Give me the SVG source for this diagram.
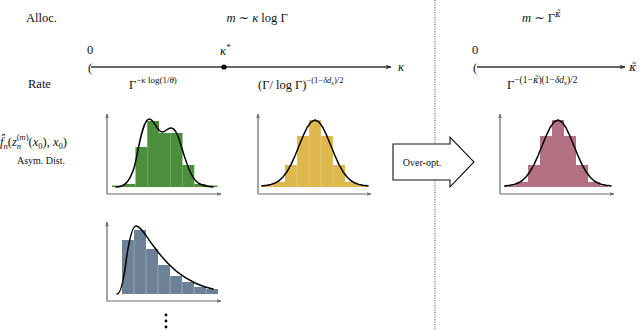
<svg xmlns="http://www.w3.org/2000/svg" xmlns:xlink="http://www.w3.org/1999/xlink" width="640" height="330" viewBox="0 0 640 330">
<style>
.t{font-family:"Liberation Serif","DejaVu Serif",serif;fill:#111}
.dj{font-family:"DejaVu Serif",serif}
.lbl{font-size:12.5px}
.sm{font-size:8.5px}
.it{font-style:italic}
.ax{stroke:#6a6a6a;stroke-width:1.2;fill:none}
.main{stroke:#333;stroke-width:1.3;fill:none}
.curve{stroke:#000;stroke-width:1.5;fill:none;stroke-linejoin:round;stroke-linecap:round}
.sep{stroke:#ffffff;stroke-opacity:0.45;stroke-width:0.6}
.g rect{fill:#4b8e3b}
.y rect{fill:#dfb84b}
.p rect{fill:#b47184}
.b rect{fill:#6c8196}
</style>
<defs>
<marker id="ah" viewBox="0 0 10 10" refX="9" refY="5" markerWidth="6" markerHeight="6" orient="auto" markerUnits="userSpaceOnUse">
<path d="M0,1 L10,5 L0,9 L3,5 Z" fill="#333"/>
</marker>
<marker id="sa" viewBox="0 0 10 10" refX="9" refY="5" markerWidth="5" markerHeight="5" orient="auto" markerUnits="userSpaceOnUse">
<path d="M0,1 L10,5 L0,9 L2.5,5 Z" fill="#6a6a6a"/>
</marker>
<path id="gauss" d="M-53,0 L-52,-0.34 L-48,-0.73 L-44,-1.5 L-40,-2.9 L-36,-5.25 L-32,-8.93 L-28,-14.28 L-24,-21.43 L-20,-30.22 L-16,-40.03 L-12,-49.82 L-8,-58.25 L-4,-63.97 L0,-66 L4,-63.97 L8,-58.25 L12,-49.82 L16,-40.03 L20,-30.22 L24,-21.43 L28,-14.28 L32,-8.93 L36,-5.25 L40,-2.9 L44,-1.5 L48,-0.73 L52,-0.34 L53,0"/>
</defs>

<!-- divider -->
<g id="divider">
<line x1="435" y1="0" x2="435" y2="330" stroke="#444" stroke-width="1" stroke-dasharray="1 1.4"/>
</g>

<!-- top labels -->
<g id="row-labels">
<text class="t lbl" x="26" y="22">Alloc.</text>
<text class="t lbl" x="28" y="88">Rate</text>
</g>

<g id="alloc-left">
<text class="t lbl" x="257" y="22" text-anchor="middle"><tspan class="it">m</tspan> ∼ <tspan class="it">κ</tspan> log Γ</text>
</g>
<g id="alloc-right">
<text class="t lbl" x="522" y="22"><tspan class="it">m</tspan> ∼ Γ<tspan class="sm it dj" dy="-5">κ̃</tspan></text>
</g>

<!-- axes -->
<g id="axis-left">
<line class="main" x1="91" y1="67" x2="391" y2="67" marker-end="url(#ah)"/>
<text class="t lbl" x="88" y="71.5">(</text>
<text class="t lbl" x="90" y="54" text-anchor="middle">0</text>
<circle cx="224" cy="67" r="2.6" fill="#000"/>
<text class="t lbl it" x="220" y="55">κ<tspan class="sm" dy="-5">*</tspan></text>
<text class="t lbl it" x="398" y="71">κ</text>
<text class="t lbl" x="129" y="89">Γ<tspan font-size="9" dy="-6">−<tspan class="it">κ</tspan> log(1/<tspan class="it">θ</tspan>)</tspan></text>
<text class="t lbl" x="258" y="89">(Γ/ log Γ)<tspan class="sm" dy="-6">−(1−<tspan class="it">δd</tspan><tspan dy="2" font-size="6" class="it">x</tspan><tspan dy="-2">)/2</tspan></tspan></text>
</g>

<g id="axis-right">
<line class="main" x1="477" y1="67" x2="625" y2="67" marker-end="url(#ah)"/>
<text class="t lbl" x="473" y="71.5">(</text>
<text class="t lbl" x="475" y="54" text-anchor="middle">0</text>
<text class="t it dj" font-size="11.5" x="629" y="71">κ̃</text>
<text class="t lbl" x="507" y="89">Γ<tspan font-size="9.5" dy="-6">−(1−<tspan class="it dj" font-size="8.5">κ̃</tspan>)(1−<tspan class="it">δd</tspan><tspan dy="2" font-size="6.5" class="it">x</tspan><tspan dy="-2">)/2</tspan></tspan></text>
</g>

<!-- left distribution label -->
<g id="dist-label">
<text class="t" font-size="12.5" x="0" y="146"><tspan class="it">f̂</tspan><tspan class="it" font-size="8.5" dy="2.5">n</tspan><tspan dy="-2.5">(</tspan><tspan class="it">z</tspan><tspan class="it" font-size="8.5" dy="3">n</tspan><tspan font-size="8.5" dx="-4.3" dy="-9.5">(<tspan class="it">m</tspan>)</tspan><tspan dy="6.5">(</tspan><tspan class="it">x</tspan><tspan font-size="8.5" dy="2.5">0</tspan><tspan dy="-2.5">), </tspan><tspan class="it">x</tspan><tspan font-size="8.5" dy="2.5">0</tspan><tspan dy="-2.5">)</tspan></text>
<text class="t" font-size="10" x="41" y="164" text-anchor="middle">Asym. Dist.</text>
</g>

<!-- green chart -->
<g id="chart-green">
<g class="g">
<rect x="112" y="185.5" width="11.75" height="1.5"/>
<rect x="123.75" y="184" width="11.75" height="3"/>
<rect x="135.5" y="147" width="11.75" height="40"/>
<rect x="147.25" y="121" width="11.75" height="66"/>
<rect x="159" y="133" width="11.75" height="54"/>
<rect x="170.75" y="133" width="11.75" height="54"/>
<rect x="182.5" y="165" width="11.75" height="22"/>
<rect x="194.25" y="184" width="11.75" height="3"/>
<rect x="206" y="185.5" width="11.5" height="1.5"/>
</g>
<path class="curve" d="M116,187 C124,187 129,183 134,168 C138,154 142,120 149,119 C154,118 157,132 162,132 C166,132 167,128 171,128 C177,128 180,143 184,155 C188,167 192,180 200,184 C204,186 208,187 213,187"/>
<line class="ax" x1="107" y1="194" x2="107" y2="114" marker-end="url(#sa)"/>
<line class="ax" x1="107" y1="194" x2="221" y2="194" marker-end="url(#sa)"/>
</g>

<!-- yellow chart -->
<g id="chart-yellow">
<g class="y">
<rect x="261" y="185.5" width="12" height="1.5"/>
<rect x="273" y="182" width="12" height="5"/>
<rect x="285" y="165" width="12" height="22"/>
<rect x="297" y="136" width="12" height="51"/>
<rect x="309" y="120" width="12" height="67"/>
<rect x="321" y="136" width="12" height="51"/>
<rect x="333" y="165" width="12" height="22"/>
<rect x="345" y="182" width="12" height="5"/>
<rect x="357" y="185.5" width="11" height="1.5"/>
</g>
<g class="sep">
<line x1="297" y1="136" x2="297" y2="187"/>
<line x1="309" y1="120" x2="309" y2="187"/>
<line x1="321" y1="120" x2="321" y2="187"/>
<line x1="333" y1="136" x2="333" y2="187"/>
</g>
<use xlink:href="#gauss" href="#gauss" x="315" y="186" class="curve"/>
<line class="ax" x1="258" y1="194" x2="258" y2="114" marker-end="url(#sa)"/>
<line class="ax" x1="258" y1="194" x2="371" y2="194" marker-end="url(#sa)"/>
</g>

<!-- over-opt arrow -->
<g id="over-opt">
<polygon points="393,144 450,144 450,137 474,162 450,187 450,180 393,180" fill="#fff" stroke="#111" stroke-width="1.1"/>
<text class="t" font-size="10" x="422" y="166" text-anchor="middle">Over-opt.</text>
</g>

<!-- pink chart -->
<g id="chart-pink">
<g class="p">
<rect x="504" y="185.5" width="12" height="1.5"/>
<rect x="516" y="182" width="12" height="5"/>
<rect x="528" y="165" width="12" height="22"/>
<rect x="540" y="136" width="12" height="51"/>
<rect x="552" y="120" width="12" height="67"/>
<rect x="564" y="136" width="12" height="51"/>
<rect x="576" y="165" width="12" height="22"/>
<rect x="588" y="182" width="12" height="5"/>
<rect x="600" y="185.5" width="8" height="1.5"/>
</g>
<use xlink:href="#gauss" href="#gauss" x="558" y="186" class="curve"/>
<line class="ax" x1="500" y1="194" x2="500" y2="114" marker-end="url(#sa)"/>
<line class="ax" x1="500" y1="194" x2="614" y2="194" marker-end="url(#sa)"/>
</g>

<!-- blue chart -->
<g id="chart-blue">
<g class="b">
<rect x="122" y="240" width="12" height="54"/>
<rect x="134" y="230" width="12" height="64"/>
<rect x="146" y="249" width="12" height="45"/>
<rect x="158" y="265" width="12" height="29"/>
<rect x="170" y="276" width="12" height="18"/>
<rect x="182" y="282" width="12" height="12"/>
<rect x="194" y="287" width="12" height="7"/>
<rect x="206" y="289" width="12" height="5"/>
</g>
<g class="sep">
<line x1="134" y1="240" x2="134" y2="294"/>
<line x1="146" y1="249" x2="146" y2="294"/>
<line x1="158" y1="265" x2="158" y2="294"/>
<line x1="170" y1="276" x2="170" y2="294"/>
<line x1="182" y1="282" x2="182" y2="294"/>
<line x1="194" y1="287" x2="194" y2="294"/>
<line x1="206" y1="289" x2="206" y2="294"/>
</g>
<path class="curve" d="M117,294 C120,294 123,285 126,262 C129,240 132,226 136,226 C141,226 147,238 155,248 C165,262 178,275 195,283 C202,286 208,288 213,289"/>
<line class="ax" x1="107" y1="301" x2="107" y2="222" marker-end="url(#sa)"/>
<line class="ax" x1="107" y1="301" x2="221" y2="301" marker-end="url(#sa)"/>
</g>

<g id="ellipsis">
<circle cx="166" cy="315" r="1.4" fill="#000"/>
<circle cx="166" cy="321" r="1.4" fill="#000"/>
<circle cx="166" cy="327" r="1.4" fill="#000"/>
</g>
</svg>
